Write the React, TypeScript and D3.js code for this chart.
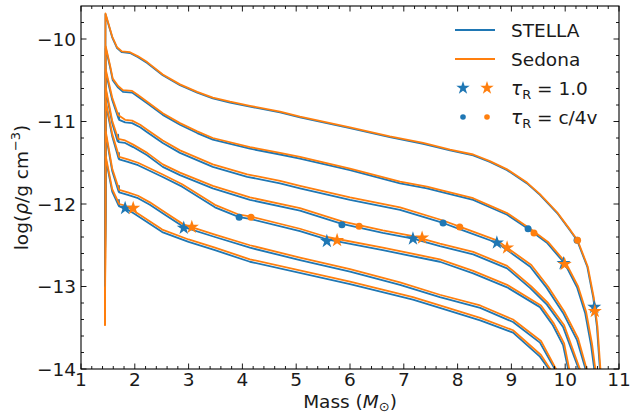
import React from 'react';
import * as d3 from 'd3';

type P = [number, number];

const massTicks = [1, 2, 3, 4, 5, 6, 7, 8, 9, 10, 11];
const rhoTicks = [-14, -13, -12, -11, -10];
const massDomain: P = [1, 11];
const rhoDomain: P = [-14, -9.6];

const stella1: P[] = [[1.445,-13.0],[1.455,-9.70],[1.50,-9.80],[1.58,-9.98],[1.67,-10.11],[1.76,-10.16],[1.91,-10.17],[2.06,-10.22],[2.23,-10.29],[2.52,-10.44],[2.84,-10.56],[3.16,-10.65],[3.45,-10.72],[3.77,-10.77],[4.14,-10.82],[4.70,-10.89],[5.07,-10.95],[6.00,-11.08],[6.74,-11.19],[7.36,-11.27],[7.86,-11.35],[8.29,-11.41],[8.60,-11.49],[8.92,-11.59],[9.29,-11.75],[9.53,-11.89],[9.85,-12.11],[10.09,-12.32],[10.22,-12.44],[10.41,-12.76],[10.52,-13.13],[10.59,-13.49],[10.65,-14.05]];
const stella2: P[] = [[1.445,-13.0],[1.46,-10.11],[1.54,-10.34],[1.59,-10.50],[1.69,-10.59],[1.78,-10.64],[1.95,-10.65],[2.06,-10.70],[2.23,-10.78],[2.52,-10.92],[2.84,-11.04],[3.16,-11.14],[3.45,-11.22],[4.14,-11.33],[4.70,-11.40],[5.07,-11.45],[6.00,-11.59],[6.93,-11.75],[7.43,-11.81],[7.67,-11.85],[8.29,-11.95],[8.60,-12.04],[8.92,-12.13],[9.31,-12.30],[9.66,-12.47],[9.99,-12.72],[10.22,-13.01],[10.37,-13.32],[10.48,-13.71],[10.55,-14.05]];
const stella3: P[] = [[1.445,-13.0],[1.46,-10.40],[1.58,-10.74],[1.69,-10.95],[1.70,-10.97],[1.705,-10.90],[1.71,-10.98],[1.82,-11.01],[1.95,-11.02],[2.10,-11.07],[2.23,-11.13],[2.52,-11.26],[2.84,-11.38],[3.45,-11.55],[4.09,-11.67],[4.70,-11.75],[5.07,-11.81],[6.00,-11.95],[6.93,-12.07],[7.73,-12.23],[8.10,-12.32],[8.73,-12.47],[9.35,-12.76],[9.66,-13.02],[9.96,-13.32],[10.22,-13.65],[10.40,-14.05]];
const stella4: P[] = [[1.445,-13.0],[1.46,-10.62],[1.58,-11.02],[1.68,-11.24],[1.69,-11.16],[1.70,-11.25],[1.82,-11.26],[1.97,-11.31],[2.23,-11.41],[2.52,-11.55],[2.84,-11.65],[3.45,-11.81],[4.14,-11.95],[5.07,-12.08],[5.85,-12.24],[6.61,-12.35],[7.17,-12.42],[7.67,-12.51],[8.29,-12.61],[8.92,-12.78],[9.35,-13.02],[9.66,-13.22],[9.96,-13.49],[10.28,-14.05]];
const stella5: P[] = [[1.445,-13.0],[1.46,-10.78],[1.58,-11.18],[1.70,-11.45],[1.705,-11.38],[1.71,-11.46],[1.87,-11.49],[2.06,-11.53],[2.51,-11.67],[2.88,-11.79],[3.49,-12.04],[3.94,-12.16],[4.14,-12.18],[5.07,-12.33],[5.57,-12.43],[6.61,-12.56],[7.67,-12.70],[8.29,-12.84],[8.92,-13.01],[9.53,-13.25],[9.77,-13.47],[9.96,-13.71],[10.07,-14.05]];
const stella6: P[] = [[1.445,-13.0],[1.46,-11.15],[1.58,-11.60],[1.70,-11.85],[1.705,-11.78],[1.71,-11.86],[1.87,-11.89],[2.06,-11.93],[2.28,-12.01],[2.56,-12.13],[2.91,-12.28],[3.49,-12.40],[4.14,-12.53],[5.07,-12.68],[6.00,-12.82],[6.93,-12.98],[7.67,-13.13],[8.42,-13.26],[9.03,-13.43],[9.53,-13.68],[9.85,-14.05]];
const stella7: P[] = [[1.445,-13.0],[1.46,-11.45],[1.58,-11.85],[1.70,-12.02],[1.705,-11.95],[1.71,-12.03],[1.82,-12.05],[2.00,-12.12],[2.51,-12.34],[3.00,-12.46],[3.49,-12.56],[4.14,-12.70],[6.00,-12.97],[7.17,-13.16],[7.67,-13.26],[8.42,-13.41],[9.03,-13.56],[9.53,-13.85],[9.75,-14.05]];

const sedona1: P[] = [[1.445,-13.47],[1.455,-9.69],[1.50,-9.79],[1.58,-9.97],[1.67,-10.10],[1.76,-10.15],[1.91,-10.16],[2.06,-10.21],[2.23,-10.28],[2.52,-10.43],[2.84,-10.55],[3.16,-10.64],[3.45,-10.71],[3.77,-10.76],[4.14,-10.81],[4.70,-10.88],[5.07,-10.94],[6.00,-11.07],[6.74,-11.18],[7.36,-11.26],[7.86,-11.34],[8.29,-11.40],[8.60,-11.48],[8.92,-11.58],[9.29,-11.74],[9.53,-11.88],[9.85,-12.10],[10.10,-12.32],[10.23,-12.44],[10.42,-12.76],[10.53,-13.13],[10.60,-13.49],[10.66,-14.05]];
const sedona2: P[] = [[1.445,-13.47],[1.46,-10.09],[1.54,-10.32],[1.59,-10.48],[1.69,-10.57],[1.78,-10.62],[1.95,-10.63],[2.06,-10.68],[2.23,-10.76],[2.52,-10.90],[2.84,-11.02],[3.16,-11.12],[3.45,-11.20],[4.14,-11.31],[4.70,-11.38],[5.07,-11.43],[6.00,-11.57],[6.93,-11.73],[7.43,-11.79],[7.67,-11.83],[8.29,-11.93],[8.60,-12.02],[8.92,-12.11],[9.33,-12.29],[9.68,-12.46],[10.01,-12.71],[10.24,-13.00],[10.39,-13.31],[10.50,-13.70],[10.57,-14.05]];
const sedona3: P[] = [[1.445,-13.47],[1.46,-10.37],[1.58,-10.71],[1.69,-10.92],[1.82,-10.98],[1.95,-10.99],[2.10,-11.04],[2.23,-11.10],[2.52,-11.23],[2.84,-11.35],[3.45,-11.52],[4.09,-11.64],[4.70,-11.72],[5.07,-11.78],[6.00,-11.92],[6.93,-12.04],[7.73,-12.20],[8.10,-12.29],[8.73,-12.44],[9.37,-12.74],[9.68,-13.00],[9.98,-13.30],[10.24,-13.63],[10.42,-14.05]];
const sedona4: P[] = [[1.445,-13.47],[1.46,-10.59],[1.58,-10.99],[1.69,-11.21],[1.82,-11.23],[1.97,-11.28],[2.23,-11.38],[2.52,-11.52],[2.84,-11.62],[3.45,-11.78],[4.14,-11.92],[5.07,-12.05],[5.85,-12.21],[6.61,-12.32],[7.17,-12.39],[7.67,-12.48],[8.29,-12.58],[8.92,-12.75],[9.37,-13.00],[9.68,-13.20],[9.98,-13.47],[10.30,-14.05]];
const sedona5: P[] = [[1.445,-13.47],[1.46,-10.75],[1.58,-11.15],[1.71,-11.43],[1.87,-11.46],[2.06,-11.50],[2.51,-11.64],[2.88,-11.76],[3.49,-12.01],[3.94,-12.13],[4.14,-12.15],[5.07,-12.30],[5.57,-12.40],[6.61,-12.53],[7.67,-12.67],[8.29,-12.81],[8.92,-12.98],[9.55,-13.23],[9.79,-13.45],[9.98,-13.69],[10.09,-14.05]];
const sedona6: P[] = [[1.445,-13.47],[1.46,-11.12],[1.58,-11.57],[1.71,-11.83],[1.87,-11.86],[2.06,-11.90],[2.28,-11.98],[2.56,-12.10],[2.91,-12.25],[3.49,-12.37],[4.14,-12.50],[5.07,-12.65],[6.00,-12.79],[6.93,-12.95],[7.67,-13.10],[8.42,-13.23],[9.03,-13.40],[9.55,-13.66],[9.87,-14.05]];
const sedona7: P[] = [[1.445,-13.47],[1.46,-11.42],[1.58,-11.82],[1.71,-12.00],[1.82,-12.02],[2.00,-12.09],[2.51,-12.31],[3.00,-12.43],[3.49,-12.53],[4.14,-12.67],[6.00,-12.94],[7.17,-13.13],[7.67,-13.23],[8.42,-13.38],[9.03,-13.53],[9.55,-13.83],[9.77,-14.05]];

const stellaCurves = [stella1, stella2, stella3, stella4, stella5, stella6, stella7];
const sedonaCurves = [sedona1, sedona2, sedona3, sedona4, sedona5, sedona6, sedona7];

const stellaStars: P[] = [[10.54,-13.25],[9.97,-12.72],[8.73,-12.47],[7.17,-12.42],[5.57,-12.45],[2.91,-12.29],[1.82,-12.05]];
const sedonaStars: P[] = [[10.55,-13.30],[9.99,-12.73],[8.92,-12.53],[7.34,-12.41],[5.76,-12.44],[3.06,-12.28],[1.97,-12.05]];
const stellaDots: P[] = [[10.22,-12.44],[9.31,-12.30],[7.73,-12.23],[5.85,-12.25],[3.94,-12.16]];
const sedonaDots: P[] = [[10.23,-12.44],[9.42,-12.35],[8.04,-12.28],[6.17,-12.27],[4.16,-12.16]];

const BLUE = '#1f77b4';
const ORANGE = '#ff7f0e';
const FONT = 'DejaVu Sans, sans-serif';
const FS = 18.5;

const W = 634, H = 413;
const L = 81, R = 619, T = 6, B = 369;

export default function App() {
  const x = d3.scaleLinear().domain(massDomain).range([L, R]);
  const y = d3.scaleLinear().domain(rhoDomain).range([B, T]);
  const line = d3.line<P>().x(d => x(d[0])).y(d => y(d[1]));
  const star = d3.symbol().type(d3.symbolStar).size(62)();
  const legendStar = d3.symbol().type(d3.symbolStar).size(56)();
  const xMinor = d3.range(1, 11.001, 0.2).filter(v => Math.abs(v - Math.round(v)) > 0.01);
  const yMinor = d3.range(-14, -9.6, 0.2).filter(v => Math.abs(v - Math.round(v)) > 0.01);
  const maj = 5.5, mnr = 3;

  return (
    <svg width={W} height={H} style={{ position: 'absolute', left: 0, top: 0, background: '#fff' }} fontFamily={FONT}>
      <defs>
        <clipPath id="plot"><rect x={L} y={T} width={R - L} height={B - T} /></clipPath>
      </defs>
      <rect width={W} height={H} fill="#fff" />
      <g clipPath="url(#plot)" fill="none" strokeWidth={1.8} strokeLinejoin="round">
        {stellaCurves.map((c, i) => (
          <React.Fragment key={i}>
            <path d={line(c) || ''} stroke={BLUE} />
            <path d={line(sedonaCurves[i]) || ''} stroke={ORANGE} />
          </React.Fragment>
        ))}
      </g>
      <g clipPath="url(#plot)">
        {stellaStars.map((p, i) => (
          <React.Fragment key={'s' + i}>
            <path d={star} transform={`translate(${x(p[0])},${y(p[1])})`} fill={BLUE} />
            <path d={star} transform={`translate(${x(sedonaStars[i][0])},${y(sedonaStars[i][1])})`} fill={ORANGE} />
          </React.Fragment>
        ))}
        {stellaDots.map((p, i) => (
          <React.Fragment key={'d' + i}>
            <circle cx={x(p[0])} cy={y(p[1])} r={3.5} fill={BLUE} />
            <circle cx={x(sedonaDots[i][0])} cy={y(sedonaDots[i][1])} r={3.5} fill={ORANGE} />
          </React.Fragment>
        ))}
      </g>
      <g stroke="#000" strokeWidth={0.9}>
        {massTicks.map(v => (
          <React.Fragment key={'xt' + v}>
            <line x1={x(v)} x2={x(v)} y1={B} y2={B - maj} />
            <line x1={x(v)} x2={x(v)} y1={T} y2={T + maj} />
          </React.Fragment>
        ))}
        {xMinor.map(v => (
          <React.Fragment key={'xm' + v}>
            <line x1={x(v)} x2={x(v)} y1={B} y2={B - mnr} />
            <line x1={x(v)} x2={x(v)} y1={T} y2={T + mnr} />
          </React.Fragment>
        ))}
        {rhoTicks.map(v => (
          <React.Fragment key={'yt' + v}>
            <line x1={L} x2={L + maj} y1={y(v)} y2={y(v)} />
            <line x1={R} x2={R - maj} y1={y(v)} y2={y(v)} />
          </React.Fragment>
        ))}
        {yMinor.map(v => (
          <React.Fragment key={'ym' + v}>
            <line x1={L} x2={L + mnr} y1={y(v)} y2={y(v)} />
            <line x1={R} x2={R - mnr} y1={y(v)} y2={y(v)} />
          </React.Fragment>
        ))}
      </g>
      <rect x={L} y={T} width={R - L} height={B - T} fill="none" stroke="#000" strokeWidth={1.1} />
      <g fontSize={FS} fill="#1a1a1a">
        {massTicks.map(v => (
          <text key={'xl' + v} x={x(v)} y={B + 17} textAnchor="middle">{v}</text>
        ))}
        {rhoTicks.map(v => (
          <text key={'yl' + v} x={L - 5} y={y(v) + 6.5} textAnchor="end">{'\u2212' + Math.abs(v)}</text>
        ))}
      </g>
      <text x={(L + R) / 2} y={408} textAnchor="middle" fontSize={FS} fill="#1a1a1a">
        Mass (<tspan fontStyle="italic">M</tspan><tspan fontSize={FS * 0.7} dy={3}>{'\u2299'}</tspan><tspan dy={-3}>)</tspan>
      </text>
      <text transform={`translate(28,${(T + B) / 2}) rotate(-90)`} textAnchor="middle" fontSize={FS} fill="#1a1a1a">
        log(<tspan fontStyle="italic">ρ</tspan>/g cm<tspan fontSize={FS * 0.7} dy={-8}>{'\u22123'}</tspan><tspan dy={8}>)</tspan>
      </text>
      <g fontSize={FS} fill="#1a1a1a">
        <line x1={455} x2={495} y1={30} y2={30} stroke={BLUE} strokeWidth={1.8} />
        <text x={511} y={37}>STELLA</text>
        <line x1={455} x2={495} y1={59} y2={59} stroke={ORANGE} strokeWidth={1.8} />
        <text x={511} y={66}>Sedona</text>
        <path d={legendStar} transform="translate(463,88)" fill={BLUE} />
        <path d={legendStar} transform="translate(487,88)" fill={ORANGE} />
        <text x={511} y={95}><tspan fontStyle="italic">τ</tspan><tspan fontSize={FS * 0.7} dy={4}>R</tspan><tspan dy={-4}> = 1.0</tspan></text>
        <circle cx={463} cy={117} r={2.8} fill={BLUE} />
        <circle cx={487} cy={117} r={2.8} fill={ORANGE} />
        <text x={511} y={124}><tspan fontStyle="italic">τ</tspan><tspan fontSize={FS * 0.7} dy={4}>R</tspan><tspan dy={-4}> = c/4v</tspan></text>
      </g>
    </svg>
  );
}
